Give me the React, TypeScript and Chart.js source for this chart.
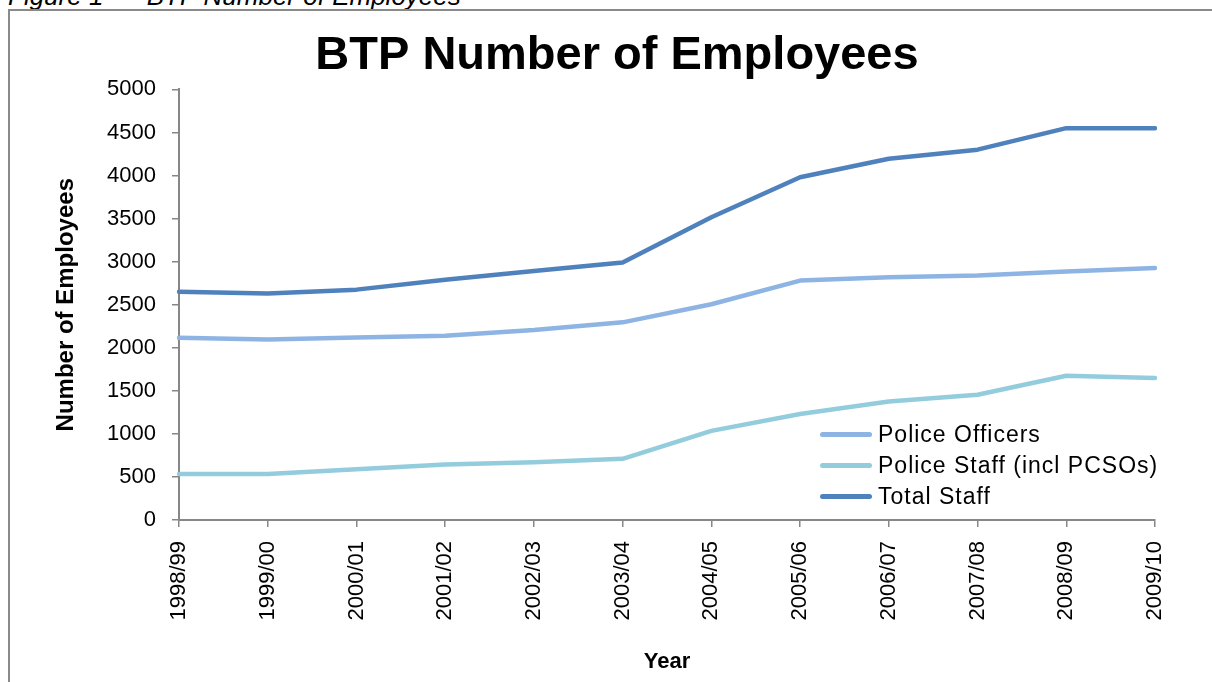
import React, { useEffect, useRef } from "react";
import { Chart, registerables } from "chart.js";

Chart.register(...registerables);

const categories = ["1998/99", "1999/00", "2000/01", "2001/02", "2002/03", "2003/04", "2004/05", "2005/06", "2006/07", "2007/08", "2008/09", "2009/10"];
const policeOfficers = [2115, 2095, 2120, 2140, 2205, 2295, 2505, 2780, 2820, 2840, 2885, 2925];
const policeStaff = [535, 535, 590, 645, 670, 710, 1035, 1230, 1375, 1455, 1675, 1650];
const totalStaff = [2650, 2630, 2675, 2790, 2890, 2990, 3515, 3980, 4195, 4300, 4550, 4550];
const seriesNames = ["Police Officers", "Police Staff (incl PCSOs)", "Total Staff"];
const seriesColors = ["#8EB4E3", "#93CDDD", "#4F81BD"];
const yTicks = { min: 0, max: 5000, step: 500 };

const FONT = "'Liberation Sans', Arial, sans-serif";
const AXIS_GRAY = "#878787";

export default function App() {
  const canvasRef = useRef<HTMLCanvasElement | null>(null);

  useEffect(() => {
    if (!canvasRef.current) return;
    const chart = new Chart(canvasRef.current, {
      type: "line",
      data: {
        labels: categories,
        datasets: [policeOfficers, policeStaff, totalStaff].map((d, i) => ({
          label: seriesNames[i],
          data: d,
          borderColor: seriesColors[i],
          backgroundColor: seriesColors[i],
          borderWidth: 4.5,
          tension: 0,
          pointRadius: 0,
          pointHoverRadius: 0,
          borderCapStyle: "round" as const,
          borderJoinStyle: "round" as const,
          yAxisID: "y",
        })),
      },
      options: {
        animation: false,
        responsive: false,
        maintainAspectRatio: false,
        layout: { padding: 0 },
        plugins: {
          legend: { display: false },
          tooltip: { enabled: false },
          title: {
            display: true,
            text: "BTP Number of Employees",
            color: "#000",
            font: { family: FONT, size: 47, weight: "bold" },
            padding: { top: 28, bottom: 5 },
          },
        },
        scales: {
          x: {
            type: "category",
            offset: false,
            grid: {
              display: true,
              drawOnChartArea: false,
              drawTicks: true,
              tickLength: 7,
              color: AXIS_GRAY,
              lineWidth: 1.5,
            },
            border: { display: true, color: AXIS_GRAY, width: 2 },
            ticks: {
              color: "#000",
              font: { family: FONT, size: 22 },
              minRotation: 90,
              maxRotation: 90,
              padding: 14,
              autoSkip: false,
            },
            title: {
              display: true,
              text: "Year",
              color: "#000",
              font: { family: FONT, size: 22, weight: "bold" },
              padding: { top: 0, bottom: 7 },
            },
            afterFit: (s: any) => {
              s.height = 162;
            },
          },
          y: {
            type: "linear",
            position: "left",
            min: yTicks.min,
            max: yTicks.max,
            grid: {
              display: true,
              drawOnChartArea: false,
              drawTicks: true,
              tickLength: 7,
              color: AXIS_GRAY,
              lineWidth: 1.5,
            },
            border: { display: true, color: AXIS_GRAY, width: 2 },
            ticks: {
              stepSize: yTicks.step,
              color: "#000",
              font: { family: FONT, size: 22 },
              padding: 16,
              callback: (v: any) => String(v),
            },
            title: {
              display: true,
              text: "Number of Employees",
              color: "#000",
              font: { family: FONT, size: 24, weight: "bold" },
              padding: { top: 30, bottom: 0 },
            },
            afterFit: (s: any) => {
              s.width = 157;
            },
          },
          yRight: {
            type: "linear",
            position: "right",
            display: true,
            grid: { display: false },
            border: { display: false },
            ticks: { display: false },
            afterFit: (s: any) => {
              s.width = 57;
            },
          },
        },
      },
    });
    return () => chart.destroy();
  }, []);

  return (
    <div
      style={{
        position: "fixed",
        left: 0,
        top: 0,
        width: 1212,
        height: 682,
        overflow: "hidden",
        background: "#fff",
        fontFamily: FONT,
      }}
    >
      <div
        style={{
          position: "absolute",
          left: 8,
          top: -19,
          fontSize: 26,
          fontStyle: "italic",
          whiteSpace: "pre",
          color: "#000",
        }}
      >
        {"Figure 1  –  BTP Number of Employees"}
      </div>
      <div
        style={{
          position: "absolute",
          left: 8,
          top: 9,
          width: 1400,
          height: 900,
          border: "2px solid #8a8a8a",
          boxSizing: "border-box",
        }}
      />
      <canvas
        ref={canvasRef}
        width={1190}
        height={682}
        style={{ position: "absolute", left: 22, top: 0, width: 1190, height: 682 }}
      />
      <div style={{ position: "absolute", left: 820, top: 419 }}>
        {seriesNames.map((name, i) => (
          <div key={name} style={{ display: "flex", alignItems: "center", height: 31 }}>
            <div
              style={{
                width: 52,
                height: 5,
                borderRadius: 3,
                background: seriesColors[i],
                marginRight: 6,
              }}
            />
            <span style={{ fontSize: 23, color: "#000", letterSpacing: 1 }}>{name}</span>
          </div>
        ))}
      </div>
    </div>
  );
}
